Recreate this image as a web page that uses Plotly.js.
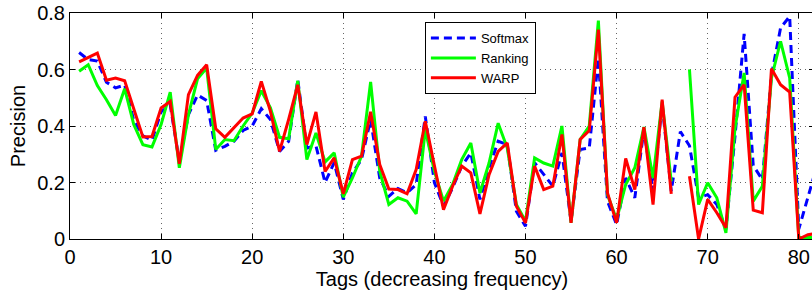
<!DOCTYPE html>
<html>
<head>
<meta charset="utf-8">
<script src="https://cdn.plot.ly/plotly-3.0.1.min.js"></script>
<style>
html,body{margin:0;padding:0;overflow:hidden;background:#fff;}
#chart{width:816px;height:293px;}
</style>
</head>
<body>
<div id="chart"></div>
<script>
// Tag index (decreasing frequency)
const tags = [];
for (let i = 1; i <= 82; i++) tags.push(i);

const softmax = [0.66,0.635,0.63,0.555,0.535,0.545,0.42,0.365,0.35,0.45,
  0.475,0.275,0.44,0.51,0.49,0.314,0.328,0.346,0.384,0.40,
  0.461,0.423,0.31,0.346,0.564,0.322,0.33,0.20,0.27,0.14,
  0.234,0.281,0.423,0.216,0.151,0.179,0.163,0.193,0.434,0.20,
  0.116,0.181,0.258,0.305,0.14,0.252,0.346,0.334,0.098,0.045,
  0.27,0.228,0.187,0.305,0.063,0.317,0.322,0.64,0.134,0.051,
  0.216,0.146,0.387,0.169,0.476,0.17,0.38,0.33,0.146,0.157,
  0.122,0.034,0.364,0.726,0.26,0.21,0.58,0.747,0.788,0.035,
  0.15,0.26];

const ranking = [0.594,0.617,0.543,0.493,0.437,0.532,0.405,0.334,0.326,0.405,
  0.52,0.252,0.44,0.567,0.605,0.317,0.352,0.348,0.40,0.446,
  0.525,0.464,0.36,0.355,0.56,0.281,0.375,0.273,0.305,0.148,
  0.216,0.293,0.556,0.24,0.122,0.146,0.134,0.089,0.387,0.24,
  0.134,0.193,0.281,0.34,0.163,0.269,0.41,0.322,0.122,0.063,
  0.287,0.269,0.258,0.40,0.057,0.352,0.40,0.773,0.157,0.069,
  0.193,0.252,0.396,0.216,0.487,0.204,null,0.60,0.122,0.199,
  0.146,0.022,0.393,0.588,0.134,0.187,0.57,0.70,0.57,0.005,
  0.005,0.005];

const warp = [0.627,0.643,0.658,0.562,0.57,0.56,0.464,0.361,0.363,0.464,
  0.487,0.266,0.511,0.579,0.617,0.39,0.36,0.393,0.428,0.443,
  0.558,0.452,0.31,0.423,0.546,0.334,0.45,0.239,0.287,0.16,
  0.281,0.293,0.45,0.264,0.177,0.175,0.16,0.246,0.417,0.26,
  0.104,0.187,0.258,0.234,0.089,0.228,0.31,0.34,0.116,0.057,
  0.258,0.175,0.187,0.37,0.057,0.352,0.384,0.741,0.163,0.057,
  0.285,0.175,0.396,0.122,0.493,0.16,null,0.222,0.0,0.14,
  0.093,0.04,0.502,0.546,0.102,0.093,0.603,0.546,0.52,0.0,
  0.015,0.02];

const seriesNames = ['Softmax','Ranking','WARP'];
const xTickVals = [0,10,20,30,40,50,60,70,80];
const yTickVals = [0,0.2,0.4,0.6,0.8];
const yTickText = ['0','0.2','0.4','0.6','0.8'];

const FONT = 'Liberation Sans, Arial, Helvetica, sans-serif';

const traces = [
  {x: tags, y: softmax, name: seriesNames[0], mode: 'lines',
   line: {color: '#0000ff', width: 3, dash: '8px,5px'}},
  {x: tags, y: ranking, name: seriesNames[1], mode: 'lines', connectgaps: false,
   line: {color: '#00ff00', width: 3}},
  {x: tags, y: warp, name: seriesNames[2], mode: 'lines', connectgaps: false,
   line: {color: '#ff0000', width: 3}}
];

const axisCommon = {
  showline: true, linecolor: '#000', linewidth: 1, mirror: 'ticks',
  ticks: 'inside', ticklen: 5, tickcolor: '#000', tickwidth: 1,
  showgrid: true, gridcolor: '#666', griddash: '1px,4px', gridwidth: 1,
  zeroline: false,
  tickfont: {family: FONT, size: 20, color: '#000'}
};

const layout = {
  width: 816, height: 293,
  margin: {l: 70, r: 2, t: 13, b: 54, pad: 0},
  paper_bgcolor: '#fff', plot_bgcolor: '#fff',
  font: {family: FONT, color: '#000'},
  showlegend: true,
  legend: {
    x: 0.477, y: 0.96, xanchor: 'left', yanchor: 'top',
    bgcolor: '#fff', bordercolor: '#000', borderwidth: 1,
    font: {family: FONT, size: 13, color: '#000'},
    itemwidth: 45, tracegroupgap: 0
  },
  xaxis: Object.assign({}, axisCommon, {
    range: [0, 81.67], tickvals: xTickVals, ticktext: xTickVals.map(String),
    title: {text: 'Tags (decreasing frequency)', font: {family: FONT, size: 20, color: '#000'}, standoff: 2}
  }),
  yaxis: Object.assign({}, axisCommon, {
    range: [0, 0.8], tickvals: yTickVals, ticktext: yTickText,
    title: {text: 'Precision', font: {family: FONT, size: 20, color: '#000'}, standoff: 6}
  })
};

Plotly.newPlot('chart', traces, layout, {staticPlot: true, displayModeBar: false});
</script>
</body>
</html>
